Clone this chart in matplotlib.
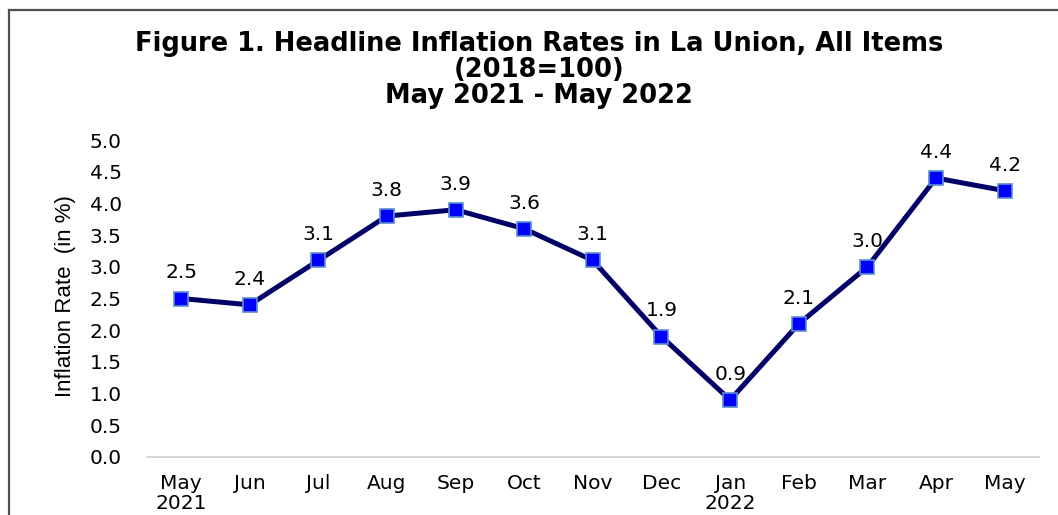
import matplotlib
matplotlib.use("Agg")
import matplotlib.pyplot as plt
from matplotlib.lines import Line2D

months = ["May\n2021", "Jun", "Jul", "Aug", "Sep", "Oct", "Nov", "Dec",
          "Jan\n2022", "Feb", "Mar", "Apr", "May"]
rates = [2.5, 2.4, 3.1, 3.8, 3.9, 3.6, 3.1, 1.9, 0.9, 2.1, 3.0, 4.4, 4.2]
yticks = [0.0, 0.5, 1.0, 1.5, 2.0, 2.5, 3.0, 3.5, 4.0, 4.5, 5.0]

plt.rcParams['font.family'] = ['DejaVu Sans']

W, H = 1058, 515
fig = plt.figure(figsize=(W / 100, H / 100), dpi=100)
ax = fig.add_axes([146.7 / W, 1 - 457 / H, (1039 - 146.7) / W, (457 - 140) / H])

x = list(range(len(months)))
ax.plot(x, rates, color='#000066', lw=3.6, marker='s', markersize=10,
        markerfacecolor='#0000FF', markeredgecolor='#5B8FD0', markeredgewidth=1.2,
        zorder=3)
for xi, v in zip(x, rates):
    ax.annotate(f"{v:.1f}", (xi, v), xytext=(0, 14.5), textcoords='offset points',
                ha='center', va='baseline', fontsize=14.5)

ax.set_xlim(-0.5, len(months) - 0.5)
ax.set_ylim(0, 5.0)
ax.set_yticks(yticks)
ax.set_yticklabels([f"{t:.1f}" for t in yticks], fontsize=14.5)
ax.set_xticks(x)
ax.set_xticklabels(months, fontsize=14.5, linespacing=1.05)
ax.tick_params(axis='both', length=0)
ax.tick_params(axis='y', pad=18)
ax.tick_params(axis='x', pad=12.5)
for s in ['top', 'right', 'left']:
    ax.spines[s].set_visible(False)
ax.spines['bottom'].set_color('#D0D0D0')
ax.spines['bottom'].set_linewidth(1.2)

fig.text(66 / W, 1 - 296 / H, "Inflation Rate  (in %)", rotation=90, ha='center',
         va='center', fontsize=16, family=['Liberation Sans Narrow', 'Liberation Sans'])

tkw = dict(ha='center', va='baseline', fontsize=18.5, fontweight='bold')
fig.text(539 / W, 1 - 51 / H, "Figure 1. Headline Inflation Rates in La Union, All Items", **tkw)
fig.text(539 / W, 1 - 77 / H, "(2018=100)", **tkw)
fig.text(539 / W, 1 - 103 / H, "May 2021 - May 2022", **tkw)

# outer border of the figure box
fig.add_artist(Line2D([9 / W, 9 / W], [0, 1 - 10 / H], color='#505050', lw=1.6,
                      transform=fig.transFigure))
fig.add_artist(Line2D([9 / W, 1], [1 - 10 / H, 1 - 10 / H], color='#505050', lw=1.6,
                      transform=fig.transFigure))

fig.savefig("out.png", dpi=100)
